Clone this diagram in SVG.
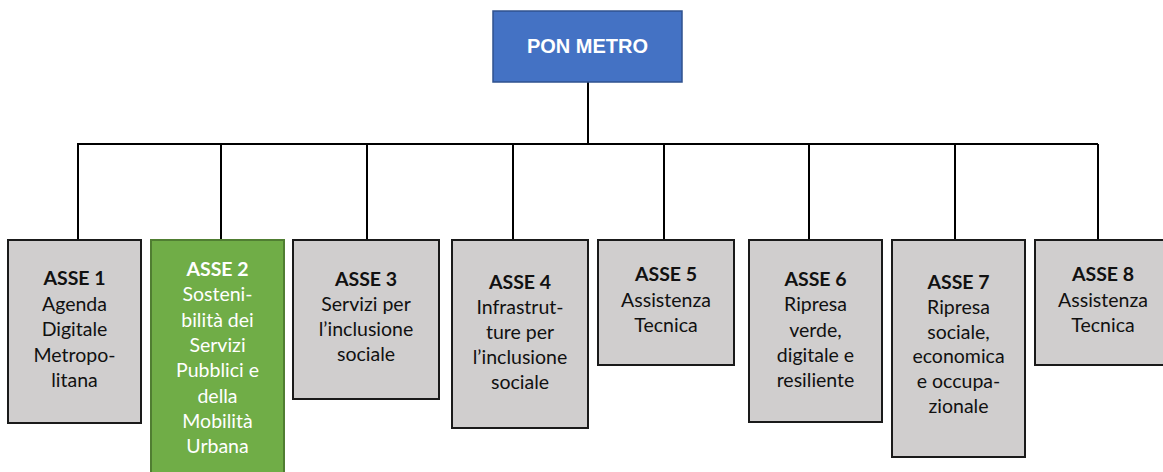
<svg xmlns="http://www.w3.org/2000/svg" width="1163" height="472" viewBox="0 0 1163 472">
<style>
.box{fill:#D0CECE;stroke:#1a1a1a;stroke-width:2}
.green{fill:#70AD47;stroke:#507E32;stroke-width:2}
.top{fill:#4472C4;stroke:#2F528F;stroke-width:1.5}
.t{font-family:Lato,"Open Sans",sans-serif;font-size:19.5px;text-anchor:middle;fill:#111}
.tw{fill:#fff}
.b{font-weight:bold}
.title{font-family:"Liberation Sans",Arial,sans-serif;font-size:20px;font-weight:bold;fill:#fff;text-anchor:middle}
.conn{stroke:#000;stroke-width:2;fill:none}
</style>
<rect width="1163" height="472" fill="#fff"/>
<g id="connectors">
<path class="conn" d="M588 82V144M77 144H1098M78 144V240M221 144V240M367 144V240M513 144V240M664 144V240M809 144V240M955 144V240M1098 144V240"/>
</g>
<g id="pon">
<rect class="top" x="493" y="11" width="189" height="71"/>
<text class="title" x="587.5" y="53">PON METRO</text>
</g>
<g id="asse1">
<rect class="box" x="8" y="240" width="133" height="183"/>
<text class="t" x="74.5" y="285"><tspan class="b">ASSE 1</tspan><tspan x="74.5" dy="25.5">Agenda</tspan><tspan x="74.5" dy="25.5">Digitale</tspan><tspan x="74.5" dy="25.5">Metropo-</tspan><tspan x="74.5" dy="25.5">litana</tspan></text>
</g>
<g id="asse2">
<rect class="green" x="151" y="240" width="133" height="240"/>
<text class="t tw" x="217.5" y="276"><tspan class="b">ASSE 2</tspan><tspan x="217.5" dy="25.3">Sosteni-</tspan><tspan x="217.5" dy="25.3">bilità dei</tspan><tspan x="217.5" dy="25.3">Servizi</tspan><tspan x="217.5" dy="25.3">Pubblici e</tspan><tspan x="217.5" dy="25.3">della</tspan><tspan x="217.5" dy="25.3">Mobilità</tspan><tspan x="217.5" dy="25.3">Urbana</tspan></text>
</g>
<g id="asse3">
<rect class="box" x="293" y="240" width="146" height="159"/>
<text class="t" x="366" y="286"><tspan class="b">ASSE 3</tspan><tspan x="366" dy="25">Servizi per</tspan><tspan x="366" dy="25">l’inclusione</tspan><tspan x="366" dy="25">sociale</tspan></text>
</g>
<g id="asse4">
<rect class="box" x="452" y="240" width="136" height="188"/>
<text class="t" x="520" y="289"><tspan class="b">ASSE 4</tspan><tspan x="520" dy="25">Infrastrut-</tspan><tspan x="520" dy="25">ture per</tspan><tspan x="520" dy="25">l’inclusione</tspan><tspan x="520" dy="25">sociale</tspan></text>
</g>
<g id="asse5">
<rect class="box" x="598" y="240" width="136" height="125"/>
<text class="t" x="666" y="281"><tspan class="b">ASSE 5</tspan><tspan x="666" dy="25.5">Assistenza</tspan><tspan x="666" dy="25.5">Tecnica</tspan></text>
</g>
<g id="asse6">
<rect class="box" x="749" y="240" width="133" height="182"/>
<text class="t" x="815.5" y="286"><tspan class="b">ASSE 6</tspan><tspan x="815.5" dy="25.3">Ripresa</tspan><tspan x="815.5" dy="25.3">verde,</tspan><tspan x="815.5" dy="25.3">digitale e</tspan><tspan x="815.5" dy="25.3">resiliente</tspan></text>
</g>
<g id="asse7">
<rect class="box" x="892" y="240" width="133" height="217"/>
<text class="t" x="958.5" y="289"><tspan class="b">ASSE 7</tspan><tspan x="958.5" dy="24.8">Ripresa</tspan><tspan x="958.5" dy="24.8">sociale,</tspan><tspan x="958.5" dy="24.8">economica</tspan><tspan x="958.5" dy="24.8">e occupa-</tspan><tspan x="958.5" dy="24.8">zionale</tspan></text>
</g>
<g id="asse8">
<rect class="box" x="1035" y="240" width="136" height="125"/>
<text class="t" x="1103" y="281"><tspan class="b">ASSE 8</tspan><tspan x="1103" dy="25.5">Assistenza</tspan><tspan x="1103" dy="25.5">Tecnica</tspan></text>
</g>
</svg>
